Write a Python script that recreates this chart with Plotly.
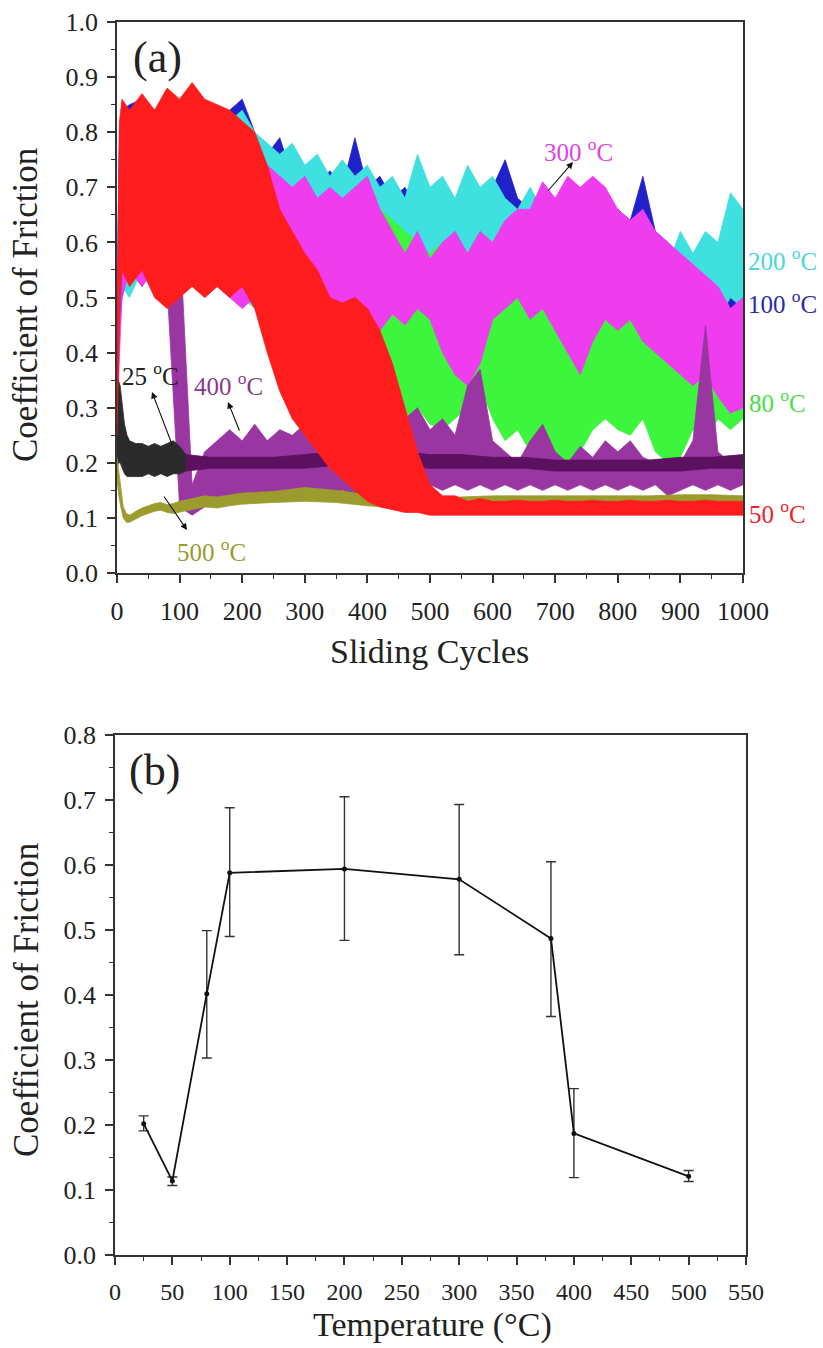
import plotly.graph_objects as go

# ---------------- Panel (a): sliding cycles vs COF (envelopes of noisy traces) ----------------
cycles = [0, 4, 8, 20, 40, 60, 80, 100, 120, 140, 160, 180, 200, 220, 240, 260, 280, 300, 320, 340,
          360, 380, 400, 420, 440, 460, 480, 500, 520, 540, 560, 580, 600, 620, 640, 660, 680, 700,
          720, 740, 760, 780, 800, 820, 840, 860, 880, 900, 920, 940, 960, 980, 1000]

cof100_hi = [0.50, 0.80, 0.84, 0.85, 0.86, 0.84, 0.85, 0.83, 0.84, 0.82, 0.80, 0.84, 0.86, 0.80, 0.76, 0.79, 0.72, 0.74, 0.70, 0.73,
             0.70, 0.79, 0.70, 0.72, 0.68, 0.70, 0.66, 0.70, 0.66, 0.64, 0.68, 0.66, 0.70, 0.75, 0.68, 0.66, 0.68, 0.66,
             0.70, 0.64, 0.66, 0.62, 0.66, 0.64, 0.72, 0.62, 0.60, 0.56, 0.58, 0.54, 0.55, 0.52, 0.54]
cof100_lo = [0.30, 0.45, 0.50, 0.55, 0.52, 0.56, 0.50, 0.55, 0.52, 0.56, 0.54, 0.58, 0.55, 0.52, 0.50, 0.48, 0.50, 0.46, 0.48, 0.45,
             0.48, 0.46, 0.50, 0.47, 0.45, 0.48, 0.44, 0.46, 0.48, 0.45, 0.50, 0.46, 0.48, 0.50, 0.46, 0.50, 0.54, 0.52,
             0.50, 0.48, 0.50, 0.46, 0.48, 0.45, 0.50, 0.46, 0.44, 0.42, 0.40, 0.42, 0.44, 0.40, 0.44]

cof200_hi = [0.55, 0.78, 0.82, 0.84, 0.85, 0.83, 0.84, 0.82, 0.84, 0.83, 0.85, 0.82, 0.84, 0.80, 0.78, 0.76, 0.78, 0.74, 0.76, 0.72,
             0.75, 0.72, 0.74, 0.70, 0.72, 0.68, 0.76, 0.70, 0.72, 0.68, 0.74, 0.70, 0.72, 0.68, 0.66, 0.70, 0.66, 0.68,
             0.64, 0.66, 0.62, 0.64, 0.60, 0.62, 0.58, 0.60, 0.56, 0.62, 0.58, 0.62, 0.60, 0.69, 0.66]
cof200_lo = [0.30, 0.45, 0.52, 0.50, 0.55, 0.52, 0.56, 0.50, 0.54, 0.50, 0.55, 0.52, 0.50, 0.48, 0.50, 0.46, 0.44, 0.48, 0.45, 0.42,
             0.46, 0.44, 0.46, 0.42, 0.45, 0.43, 0.46, 0.42, 0.44, 0.40, 0.44, 0.42, 0.46, 0.44, 0.42, 0.45, 0.42, 0.44,
             0.40, 0.38, 0.36, 0.34, 0.38, 0.40, 0.36, 0.38, 0.40, 0.42, 0.46, 0.44, 0.46, 0.50, 0.48]

cof80_hi = [0.40, 0.70, 0.76, 0.78, 0.80, 0.78, 0.80, 0.78, 0.80, 0.78, 0.80, 0.78, 0.80, 0.76, 0.72, 0.70, 0.68, 0.66, 0.66, 0.64,
            0.66, 0.64, 0.66, 0.66, 0.64, 0.62, 0.60, 0.58, 0.60, 0.56, 0.58, 0.62, 0.60, 0.64, 0.60, 0.62, 0.58, 0.60,
            0.56, 0.58, 0.54, 0.56, 0.58, 0.56, 0.54, 0.52, 0.50, 0.46, 0.44, 0.42, 0.40, 0.38, 0.40]
cof80_lo = [0.30, 0.55, 0.58, 0.60, 0.58, 0.60, 0.58, 0.60, 0.58, 0.60, 0.58, 0.56, 0.58, 0.54, 0.48, 0.42, 0.40, 0.42, 0.38, 0.40,
            0.36, 0.38, 0.34, 0.36, 0.30, 0.28, 0.30, 0.27, 0.26, 0.28, 0.30, 0.34, 0.28, 0.24, 0.26, 0.22, 0.24, 0.21,
            0.19, 0.22, 0.26, 0.28, 0.26, 0.25, 0.28, 0.22, 0.20, 0.21, 0.26, 0.24, 0.28, 0.26, 0.28]

cof300_hi = [0.45, 0.75, 0.80, 0.82, 0.84, 0.80, 0.82, 0.80, 0.82, 0.80, 0.78, 0.80, 0.76, 0.78, 0.74, 0.72, 0.70, 0.72, 0.68, 0.70,
             0.68, 0.70, 0.72, 0.66, 0.62, 0.58, 0.62, 0.57, 0.60, 0.62, 0.58, 0.62, 0.60, 0.64, 0.66, 0.66, 0.71, 0.68,
             0.72, 0.70, 0.72, 0.70, 0.66, 0.64, 0.66, 0.62, 0.60, 0.58, 0.56, 0.54, 0.52, 0.48, 0.50]
cof300_lo = [0.25, 0.40, 0.50, 0.55, 0.52, 0.55, 0.50, 0.52, 0.55, 0.50, 0.52, 0.50, 0.48, 0.50, 0.46, 0.45, 0.48, 0.44, 0.46, 0.42,
             0.45, 0.43, 0.46, 0.44, 0.47, 0.45, 0.48, 0.46, 0.40, 0.36, 0.34, 0.38, 0.46, 0.48, 0.50, 0.46, 0.48, 0.44,
             0.40, 0.36, 0.42, 0.46, 0.44, 0.46, 0.42, 0.40, 0.38, 0.36, 0.34, 0.36, 0.32, 0.29, 0.30]

cof400_hi = [0.45, 0.80, 0.84, 0.82, 0.80, 0.78, 0.76, 0.62, 0.16, 0.22, 0.24, 0.26, 0.24, 0.27, 0.24, 0.26, 0.25, 0.27, 0.24, 0.26,
             0.23, 0.25, 0.22, 0.24, 0.26, 0.28, 0.30, 0.26, 0.28, 0.25, 0.34, 0.37, 0.24, 0.22, 0.20, 0.24, 0.27, 0.22,
             0.20, 0.23, 0.21, 0.24, 0.22, 0.24, 0.21, 0.20, 0.19, 0.20, 0.24, 0.45, 0.22, 0.20, 0.21]
cof400_lo = [0.25, 0.45, 0.55, 0.58, 0.55, 0.58, 0.52, 0.12, 0.105, 0.12, 0.13, 0.14, 0.13, 0.14, 0.13, 0.14, 0.15, 0.14, 0.15, 0.14,
             0.15, 0.14, 0.15, 0.14, 0.15, 0.16, 0.15, 0.16, 0.15, 0.16, 0.15, 0.16, 0.15, 0.16, 0.15, 0.16, 0.15, 0.16,
             0.15, 0.16, 0.15, 0.16, 0.15, 0.16, 0.15, 0.16, 0.14, 0.15, 0.16, 0.15, 0.16, 0.15, 0.16]

cof50_hi = [0.40, 0.82, 0.86, 0.84, 0.87, 0.84, 0.88, 0.86, 0.89, 0.86, 0.85, 0.84, 0.82, 0.80, 0.74, 0.66, 0.62, 0.58, 0.55, 0.50,
            0.49, 0.50, 0.48, 0.44, 0.38, 0.30, 0.22, 0.16, 0.14, 0.14, 0.13, 0.135, 0.13, 0.13, 0.132, 0.13, 0.13, 0.132,
            0.13, 0.13, 0.132, 0.13, 0.13, 0.132, 0.13, 0.13, 0.132, 0.13, 0.13, 0.132, 0.13, 0.13, 0.13]
cof50_lo = [0.25, 0.50, 0.55, 0.52, 0.55, 0.50, 0.48, 0.50, 0.52, 0.50, 0.52, 0.50, 0.52, 0.48, 0.40, 0.33, 0.28, 0.25, 0.22, 0.19,
            0.17, 0.15, 0.13, 0.12, 0.115, 0.11, 0.11, 0.105, 0.105, 0.105, 0.105, 0.105, 0.105, 0.105, 0.105, 0.105, 0.105, 0.105,
            0.105, 0.105, 0.105, 0.105, 0.105, 0.105, 0.105, 0.105, 0.105, 0.105, 0.105, 0.105, 0.105, 0.105, 0.105]

cycles25 = [0, 2, 5, 8, 12, 16, 20, 30, 40, 50, 60, 70, 80, 90, 100, 110, 150, 200, 250, 300, 350, 400, 450,
            500, 550, 600, 650, 700, 750, 800, 850, 900, 950, 1000]
cof25_hi = [0.30, 0.35, 0.34, 0.31, 0.27, 0.25, 0.24, 0.235, 0.235, 0.23, 0.235, 0.23, 0.235, 0.24, 0.23, 0.215, 0.21, 0.21,
            0.21, 0.215, 0.22, 0.225, 0.22, 0.215, 0.215, 0.21, 0.21, 0.205, 0.205, 0.205, 0.205, 0.21, 0.21, 0.215]
cof25_lo = [0.19, 0.20, 0.20, 0.19, 0.18, 0.175, 0.175, 0.175, 0.175, 0.18, 0.175, 0.18, 0.175, 0.18, 0.18, 0.185, 0.19, 0.19,
            0.19, 0.19, 0.195, 0.195, 0.195, 0.19, 0.19, 0.19, 0.19, 0.185, 0.185, 0.185, 0.185, 0.185, 0.19, 0.19]

cycles500 = [0, 3, 6, 10, 15, 20, 25, 30, 40, 50, 60, 70, 80, 90, 100, 120, 140, 160, 180, 200, 250, 300, 350, 400,
             450, 500, 550, 600, 650, 700, 750, 800, 850, 900, 950, 1000]
cof500_hi = [0.21, 0.18, 0.15, 0.12, 0.108, 0.105, 0.108, 0.112, 0.118, 0.122, 0.126, 0.128, 0.124, 0.126, 0.13, 0.135, 0.14,
             0.138, 0.142, 0.145, 0.148, 0.155, 0.15, 0.142, 0.14, 0.138, 0.138, 0.14, 0.14, 0.14, 0.14, 0.14, 0.14, 0.142,
             0.142, 0.14]
cof500_lo = [0.17, 0.14, 0.12, 0.10, 0.092, 0.092, 0.095, 0.098, 0.104, 0.108, 0.112, 0.114, 0.11, 0.108, 0.11, 0.115, 0.12,
             0.118, 0.122, 0.125, 0.128, 0.13, 0.128, 0.122, 0.118, 0.115, 0.115, 0.118, 0.118, 0.12, 0.12, 0.12, 0.12, 0.12,
             0.122, 0.12]

# ---------------- Panel (b): mean COF vs temperature ----------------
temps = [25, 50, 80, 100, 200, 300, 380, 400, 500]
cof_mean = [0.202, 0.114, 0.402, 0.588, 0.594, 0.578, 0.487, 0.187, 0.121]
cof_upper = [0.214, 0.120, 0.499, 0.688, 0.705, 0.693, 0.605, 0.256, 0.130]
cof_lower = [0.191, 0.107, 0.303, 0.490, 0.484, 0.462, 0.367, 0.119, 0.113]

x_ticks_a = list(range(0, 1001, 100))
x_ticks_b = list(range(0, 551, 50))

FONT = "Liberation Serif"

fig = go.Figure()


def band(xs, hi, lo, color, xaxis="x", yaxis="y"):
    fig.add_trace(go.Scatter(
        x=list(xs) + list(xs)[::-1], y=list(hi) + list(lo)[::-1],
        fill="toself", fillcolor=color, mode="lines",
        line=dict(color=color, width=0.8), hoverinfo="skip",
        showlegend=False, xaxis=xaxis, yaxis=yaxis))


band(cycles, cof100_hi, cof100_lo, "#2121cc")
band(cycles, cof200_hi, cof200_lo, "#3ee0e0")
band(cycles, cof80_hi, cof80_lo, "#3cf53c")
band(cycles, cof300_hi, cof300_lo, "#ee3cee")
band(cycles, cof400_hi, cof400_lo, "#9a36a2")

# 25 °C trace: black at the start, looks dark purple where it overlays the 400 °C trace
i_split = cycles25.index(110)
band(cycles25[:i_split + 1], cof25_hi[:i_split + 1], cof25_lo[:i_split + 1], "#2b2b2b")
band(cycles25[i_split:], cof25_hi[i_split:], cof25_lo[i_split:], "#5c1060")

band(cycles500, cof500_hi, cof500_lo, "#9c9c2e")
band(cycles, cof50_hi, cof50_lo, "#ff1c1c")

# panel b
err_plus = [u - m for u, m in zip(cof_upper, cof_mean)]
err_minus = [m - l for m, l in zip(cof_mean, cof_lower)]
fig.add_trace(go.Scatter(
    x=temps, y=cof_mean, mode="lines+markers",
    line=dict(color="#111111", width=1.8),
    marker=dict(color="#111111", size=5),
    error_y=dict(type="data", array=err_plus, arrayminus=err_minus, symmetric=False,
                 color="#333333", thickness=1.4, width=5),
    showlegend=False, xaxis="x2", yaxis="y2"))

W, H = 823, 1348


def px(xp):
    return xp / W


def py(yp):
    return (H - yp) / H


def axis_style(size):
    return dict(
        showline=True, linecolor="#333333", linewidth=1.6, mirror=True,
        ticks="outside", ticklen=8, tickwidth=1.5, tickcolor="#333333",
        showgrid=False, zeroline=False, automargin=False,
        tickfont=dict(family=FONT, size=size, color="#222222"),
    )


fig.update_layout(
    template="none",
    width=W, height=H, margin=dict(l=0, r=0, t=0, b=0, pad=0, autoexpand=False),
    paper_bgcolor="white", plot_bgcolor="white", showlegend=False,
    font=dict(family=FONT),
    xaxis=dict(domain=[px(117), px(743)], range=[0, 1000], anchor="y",
               tickvals=x_ticks_a, ticklabelstandoff=6,
               minor=dict(ticks="outside", ticklen=4, tickwidth=1.3, tickcolor="#333333", dtick=50),
               **axis_style(26)),
    yaxis=dict(domain=[py(573), py(22)], range=[0, 1.0], anchor="x",
               dtick=0.1, tickformat=".1f", ticklabelstandoff=4,
               minor=dict(ticks="outside", ticklen=4, tickwidth=1.3, tickcolor="#333333", dtick=0.05),
               **axis_style(26)),
    xaxis2=dict(domain=[px(115), px(746)], range=[0, 550], anchor="y2",
                tickvals=x_ticks_b, ticklabelstandoff=6,
                minor=dict(ticks="outside", ticklen=4, tickwidth=1.3, tickcolor="#333333", dtick=25),
                **axis_style(24)),
    yaxis2=dict(domain=[py(1255), py(735)], range=[0, 0.8], anchor="x2",
                dtick=0.1, tickformat=".1f", ticklabelstandoff=4,
                minor=dict(ticks="outside", ticklen=4, tickwidth=1.3, tickcolor="#333333", dtick=0.05),
                **axis_style(26)),
)

ann = []


def text(xp, yp, s, size, color, angle=0, xanchor="center"):
    ann.append(dict(x=px(xp), y=py(yp), xref="paper", yref="paper", text=s, showarrow=False,
                    font=dict(family=FONT, size=size, color=color), textangle=angle,
                    xanchor=xanchor, yanchor="middle"))


def arrow(hx, hy, tx, ty):
    ann.append(dict(x=px(hx), y=py(hy), xref="paper", yref="paper", text="",
                    showarrow=True, ax=tx - hx, ay=ty - hy, arrowhead=2, arrowsize=1.2,
                    arrowwidth=1.1, arrowcolor="#111111"))


# axis titles
text(26, 305, "Coefficient of Friction", 35, "#222222", angle=-90)
text(429, 651, "Sliding Cycles", 34, "#222222")
text(26, 1000, "Coefficient of Friction", 35, "#222222", angle=-90)
text(432, 1325, "Temperature (°C)", 34, "#222222")

# panel labels
text(131, 57, "(a)", 44, "#222222", xanchor="left")
text(127, 770, "(b)", 44, "#222222", xanchor="left")

# curve labels
text(578, 150, "300 <sup>o</sup>C", 25, "#dd44dd")
text(782, 259, "200 <sup>o</sup>C", 25, "#44d8d8")
text(782, 302, "100 <sup>o</sup>C", 25, "#2a2aa8")
text(777, 401, "80 <sup>o</sup>C", 25, "#44e044")
text(777, 512, "50 <sup>o</sup>C", 25, "#ee2222")
text(150, 374, "25 <sup>o</sup>C", 25, "#222222")
text(228, 384, "400 <sup>o</sup>C", 25, "#8a3a8a")
text(212, 550, "500 <sup>o</sup>C", 25, "#9a9a30")

arrow(152, 392, 173, 447)
arrow(228, 402, 240, 432)
arrow(187, 530, 163, 495)
arrow(573, 162, 547, 192)

fig.update_layout(annotations=ann)

fig.write_html("out.html")
